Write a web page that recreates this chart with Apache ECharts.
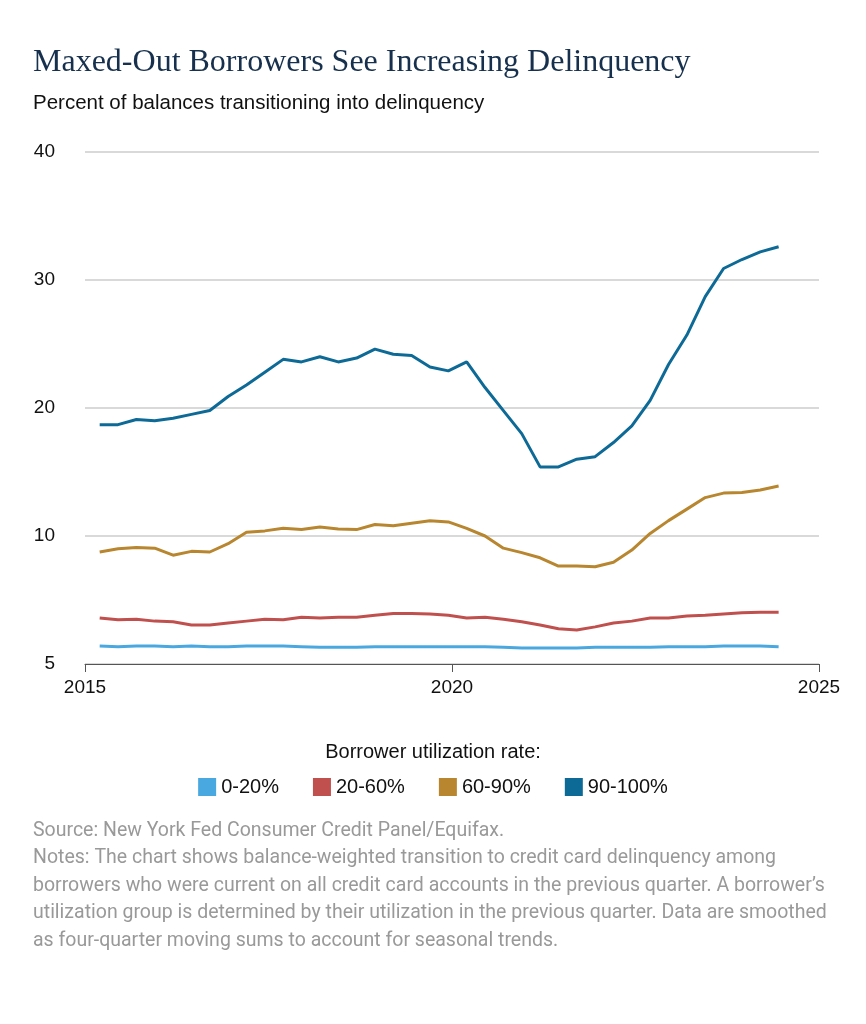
<!DOCTYPE html>
<html><head><meta charset="utf-8">
<script src="https://cdn.jsdelivr.net/npm/echarts@6/dist/echarts.min.js"></script>
<style>body{margin:0;background:#fff}#c{width:866px;height:1024px}</style></head>
<body><div id="c"></div>
<script>
const dates=[2015.2,2015.45,2015.7,2015.95,2016.2,2016.45,2016.7,2016.95,2017.2,2017.45,2017.7,2017.95,2018.2,2018.45,2018.7,2018.95,2019.2,2019.45,2019.7,2019.95,2020.2,2020.45,2020.7,2020.95,2021.2,2021.45,2021.7,2021.95,2022.2,2022.45,2022.7,2022.95,2023.2,2023.45,2023.7,2023.95,2024.2,2024.45];
const s0_20=[1.4,1.35,1.4,1.4,1.35,1.4,1.35,1.35,1.4,1.4,1.4,1.35,1.3,1.3,1.3,1.35,1.35,1.35,1.35,1.35,1.35,1.35,1.3,1.25,1.25,1.25,1.25,1.3,1.3,1.3,1.3,1.35,1.35,1.35,1.4,1.4,1.4,1.35];
const s20_60=[3.6,3.45,3.5,3.35,3.3,3.05,3.05,3.2,3.35,3.5,3.45,3.65,3.6,3.65,3.65,3.8,3.95,3.95,3.9,3.8,3.6,3.65,3.5,3.3,3.05,2.75,2.65,2.9,3.2,3.35,3.6,3.6,3.75,3.8,3.9,4.0,4.05,4.05];
const s60_90=[8.75,9.0,9.1,9.05,8.5,8.8,8.75,9.4,10.3,10.4,10.6,10.5,10.7,10.55,10.5,10.9,10.8,11.0,11.2,11.1,10.6,10.0,9.05,8.7,8.3,7.65,7.65,7.6,7.95,8.9,10.2,11.2,12.1,13.0,13.35,13.4,13.6,13.9];
const s90_100=[18.7,18.7,19.1,19.0,19.2,19.5,19.8,20.9,21.8,22.8,23.8,23.6,24.0,23.6,23.9,24.6,24.2,24.1,23.2,22.9,23.6,21.6,19.8,18.0,15.4,15.4,16.0,16.2,17.3,18.6,20.6,23.4,25.7,28.7,30.9,31.6,32.2,32.6];
const names=['0-20%','20-60%','60-90%','90-100%'];
const colors=['#4aa8e0','#c0504d','#b8862f','#0d6a96'];
const all=[s0_20,s20_60,s60_90,s90_100];
const yLabels={0:'5',10:'10',20:'20',30:'30',40:'40'};
const ch=echarts.init(document.getElementById('c'));
ch.setOption({
 animation:false,
 title:[{text:'Maxed-Out Borrowers See Increasing Delinquency',left:28,top:42,textStyle:{fontFamily:'Liberation Serif',fontSize:32,fontWeight:'normal',color:'#16304d'}},
 {text:'Percent of balances transitioning into delinquency',left:28,top:88,textStyle:{fontFamily:'Liberation Sans',fontSize:20.5,fontWeight:'normal',color:'#111'}},
 {text:'Borrower utilization rate:',left:'center',top:737,textStyle:{fontFamily:'Liberation Sans',fontSize:20,fontWeight:'normal',color:'#111'}},
 {text:'Source: New York Fed Consumer Credit Panel/Equifax.\nNotes: The chart shows balance-weighted transition to credit card delinquency among\nborrowers who were current on all credit card accounts in the previous quarter. A borrower\u2019s\nutilization group is determined by their utilization in the previous quarter. Data are smoothed\nas four-quarter moving sums to account for seasonal trends.',left:28,top:812,textStyle:{fontFamily:'Roboto',fontSize:19.5,lineHeight:27.5,fontWeight:'normal',color:'#999'}}],
 legend:{top:772,left:'center',itemWidth:18,itemHeight:18,itemGap:34,icon:'rect',data:names,textStyle:{fontFamily:'Liberation Sans',fontSize:20,color:'#111'}},
 grid:{left:85,right:47,top:152,bottom:360},
 xAxis:{type:'value',min:2015,max:2025,interval:5,axisLine:{lineStyle:{color:'#555'}},axisTick:{show:true,length:8,lineStyle:{color:'#555'}},splitLine:{show:false},
  axisLabel:{fontFamily:'Liberation Sans',fontSize:19,color:'#111',margin:14,formatter:v=>String(v)}},
 yAxis:{type:'value',min:0,max:40,interval:10,axisLine:{show:false},axisTick:{show:false},
  splitLine:{lineStyle:{color:'#ccc',width:1.5}},
  axisLabel:{fontFamily:'Liberation Sans',fontSize:19,color:'#111',margin:30,align:'right',formatter:v=>yLabels[v]}},
 series:all.map((d,i)=>({name:names[i],type:'line',showSymbol:false,smooth:false,color:colors[i],lineStyle:{width:3,color:colors[i]},data:dates.map((x,j)=>[x,d[j]])}))
});
</script></body></html>
